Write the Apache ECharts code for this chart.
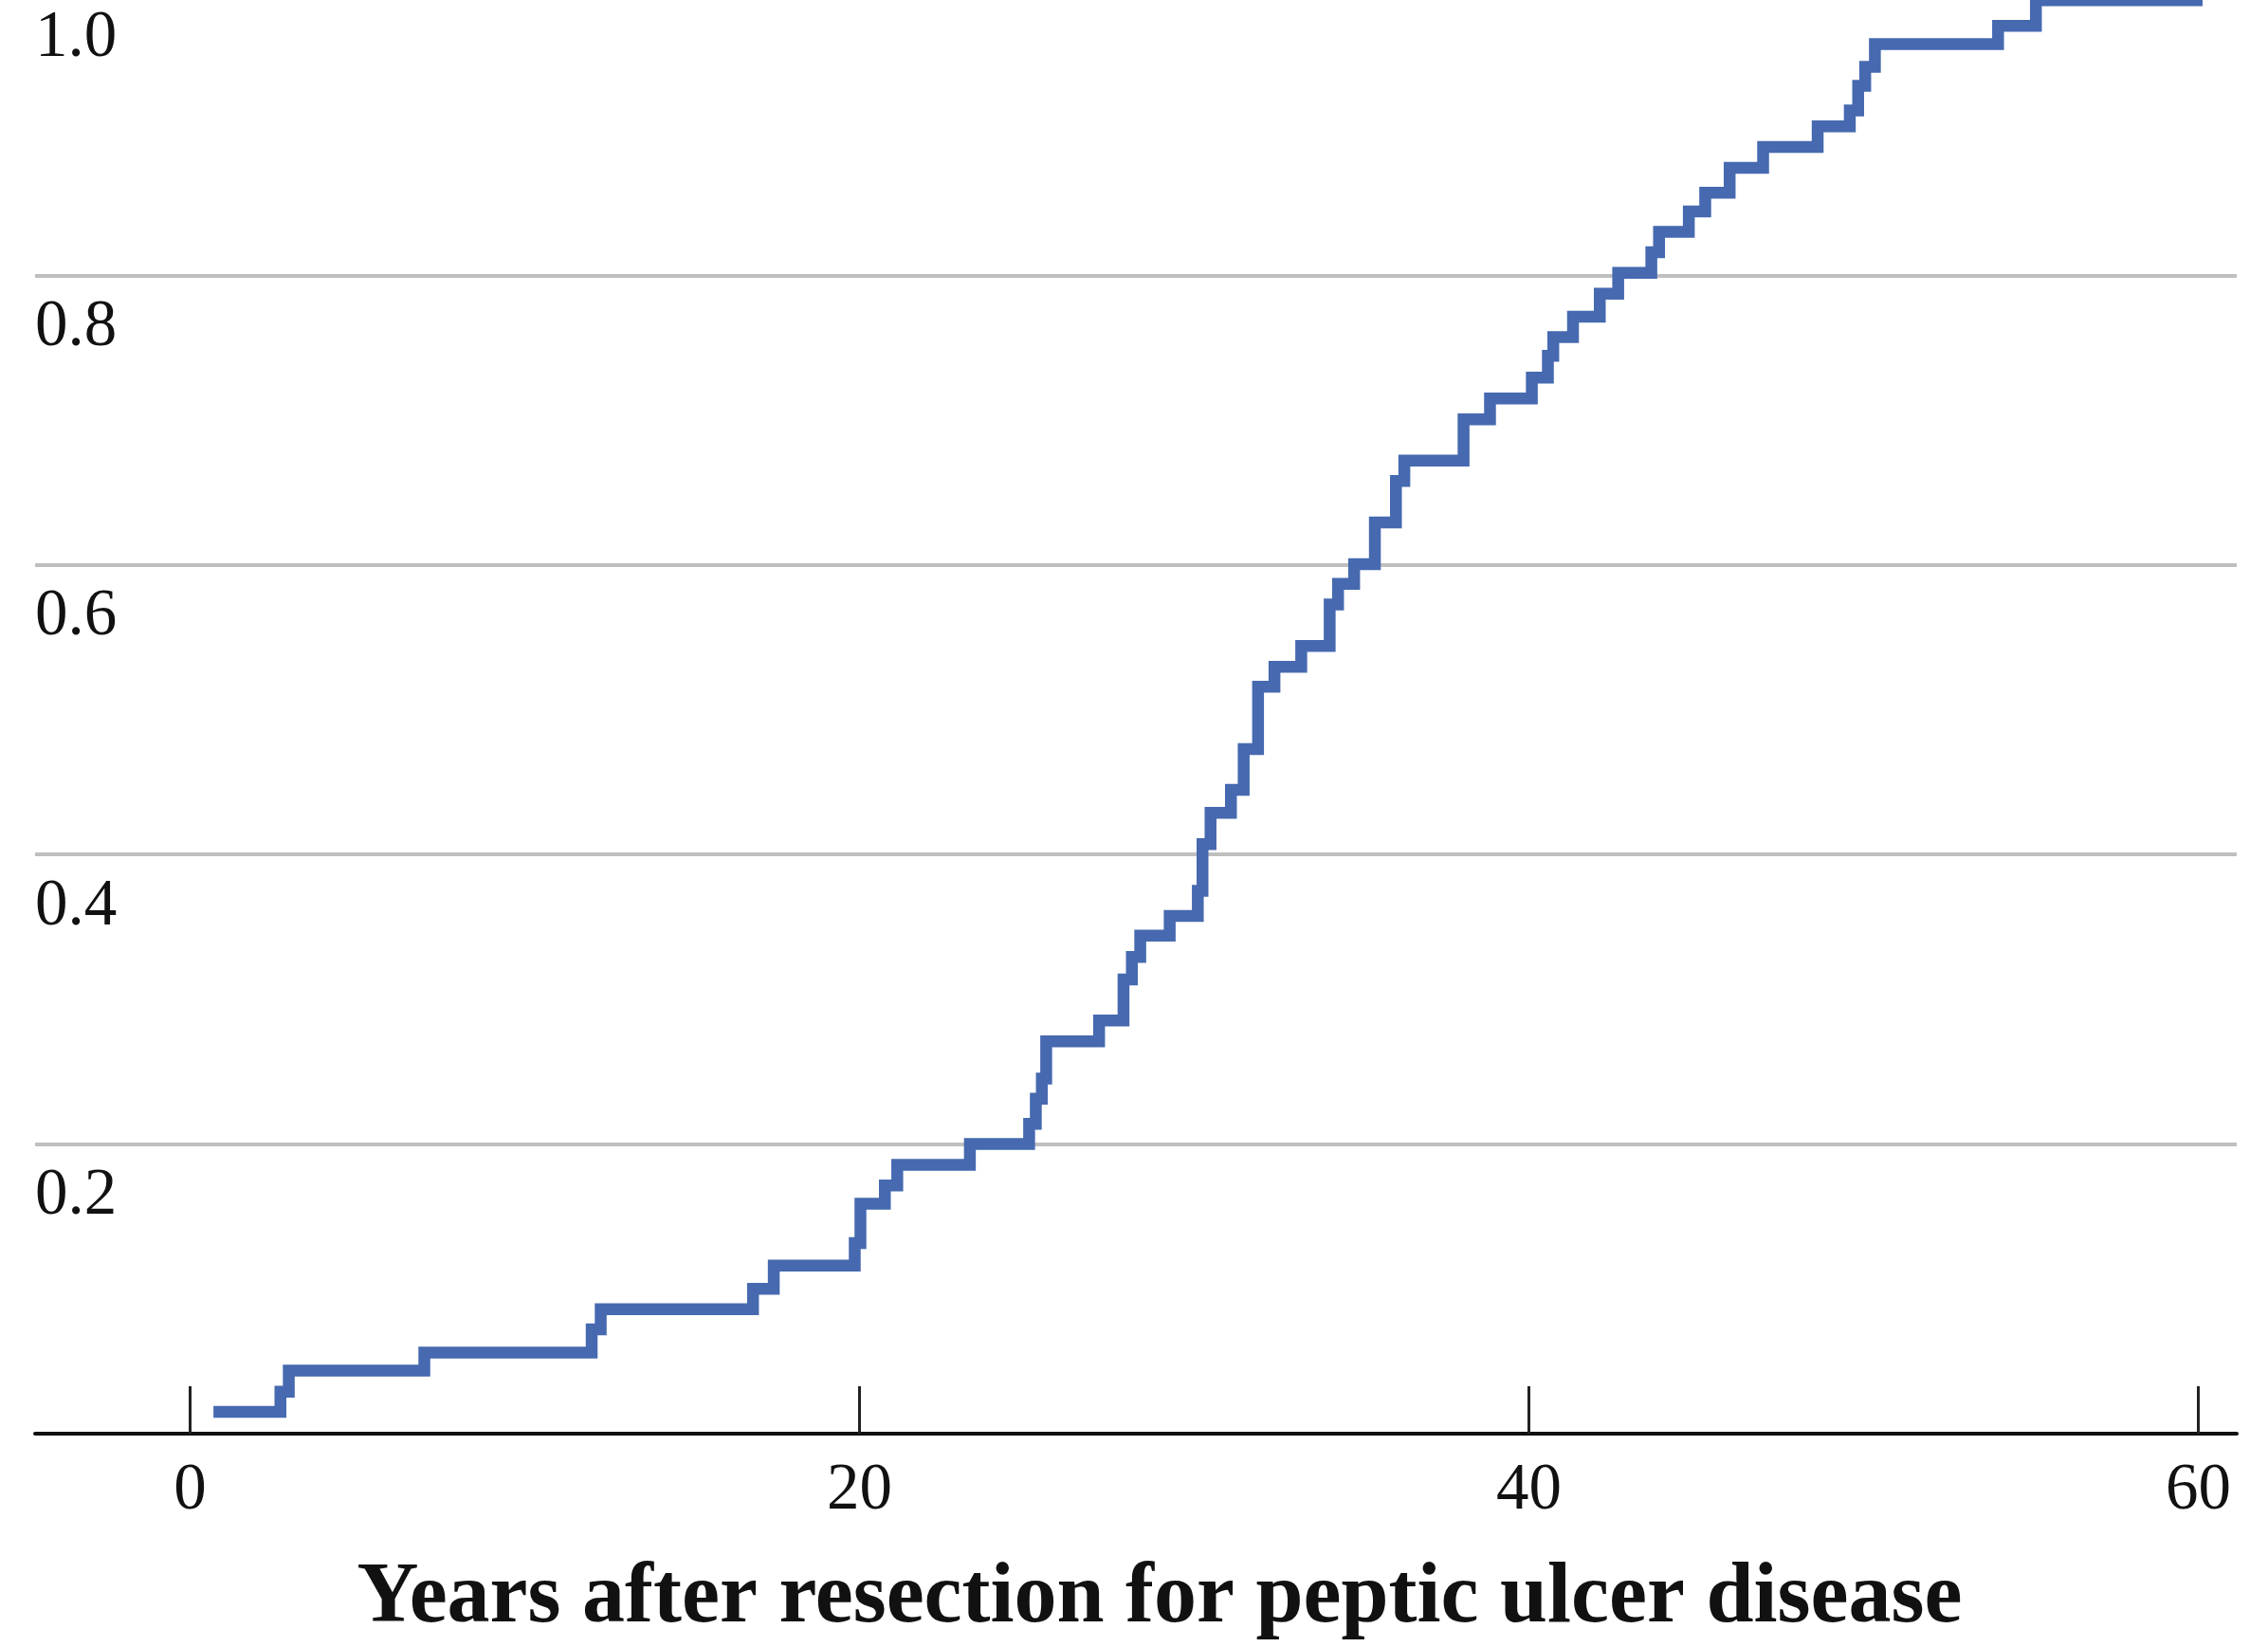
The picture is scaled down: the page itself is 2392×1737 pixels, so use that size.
<!DOCTYPE html>
<html><head><meta charset="utf-8">
<script src="https://cdn.jsdelivr.net/npm/echarts@6/dist/echarts.min.js"></script>
<style>html,body{margin:0;padding:0;background:#fff;overflow:hidden;width:2392px;height:1737px}
#c{position:absolute;left:0;top:-15px;width:2392px;height:1752px}</style>
</head><body><div id="c"></div>
<script>
// Step times (years) and cumulative incidence value from each time onward
const years = [0.7, 2.7, 2.95, 7.0, 12.0, 12.27, 16.82, 17.44, 19.86, 20.03, 20.76, 21.13, 23.3,
  25.07, 25.27, 25.45, 25.58, 27.16, 27.89, 28.14, 28.39, 29.27, 30.11, 30.25, 30.49, 31.1, 31.48,
  31.91, 32.4, 33.2, 34.05, 34.3, 34.78, 35.4, 36.03, 36.28, 38.05, 38.84, 40.09, 40.57, 40.73,
  41.32, 42.12, 42.67, 43.66, 43.89, 44.78, 45.27, 46.0, 47.0, 48.63, 49.59, 49.84, 50.05, 50.34,
  54.02, 55.15, 60.13];
const incidence = [0.015, 0.029, 0.0435, 0.056, 0.072, 0.086, 0.100, 0.116, 0.1316, 0.1588, 0.1714,
  0.1856, 0.2001, 0.214, 0.2314, 0.2453, 0.271, 0.2854, 0.3137, 0.3293, 0.3439, 0.3576, 0.375,
  0.4071, 0.4288, 0.4446, 0.4728, 0.5158, 0.5296, 0.544, 0.5727, 0.587, 0.6006, 0.6294, 0.658,
  0.672, 0.7005, 0.715, 0.7293, 0.7445, 0.7574, 0.7715, 0.7874, 0.8017, 0.8159, 0.83, 0.8442,
  0.857, 0.8742, 0.8887, 0.9029, 0.9139, 0.9309, 0.944, 0.9597, 0.9723, 0.99, 0.99];
const xTicks = [0, 20, 40, 60];
const yTicks = [0.2, 0.4, 0.6, 0.8, 1.0];
const xTitle = 'Years after resection for peptic ulcer disease';

const FONT = "'Liberation Serif', 'Times New Roman', serif";
const chart = echarts.init(document.getElementById('c'), null, {renderer: 'canvas'});
chart.setOption({
  animation: false,
  backgroundColor: '#ffffff',
  grid: {left: 37, right: 33, top: 0, bottom: 219, containLabel: false},
  xAxis: {
    type: 'value', min: -4.63, max: 61.15,
    name: xTitle, nameLocation: 'middle', nameGap: 130,
    nameTextStyle: {fontFamily: FONT, fontSize: 90, fontWeight: 'bold', color: '#111', lineHeight: 90, padding: [0, 0, 0, 50]},
    axisLine: {show: true, onZero: false, lineStyle: {color: '#111', width: 4}},
    axisTick: {show: true, inside: true, length: 50, customValues: xTicks, lineStyle: {color: '#222', width: 3}},
    axisLabel: {customValues: xTicks, margin: 26, fontFamily: FONT, fontSize: 69, lineHeight: 69, color: '#111'},
    splitLine: {show: false}
  },
  yAxis: {
    type: 'value', min: 0, max: 1, interval: 0.2,
    axisLine: {show: false}, axisTick: {show: false},
    axisLabel: {customValues: yTicks, inside: true, margin: 0, align: 'left', verticalAlign: 'top', lineHeight: 111,
      fontFamily: FONT, fontSize: 69, color: '#111', formatter: v => v.toFixed(1)},
    splitLine: {show: true, lineStyle: {color: '#bfbfbf', width: 4}}
  },
  series: [{
    type: 'line', step: 'end', showSymbol: false, symbol: 'none',
    data: years.map((x, i) => [x, incidence[i]]),
    lineStyle: {color: '#4669b0', width: 12.5, join: 'miter', cap: 'butt'},
    z: 3
  }]
});
</script></body></html>
